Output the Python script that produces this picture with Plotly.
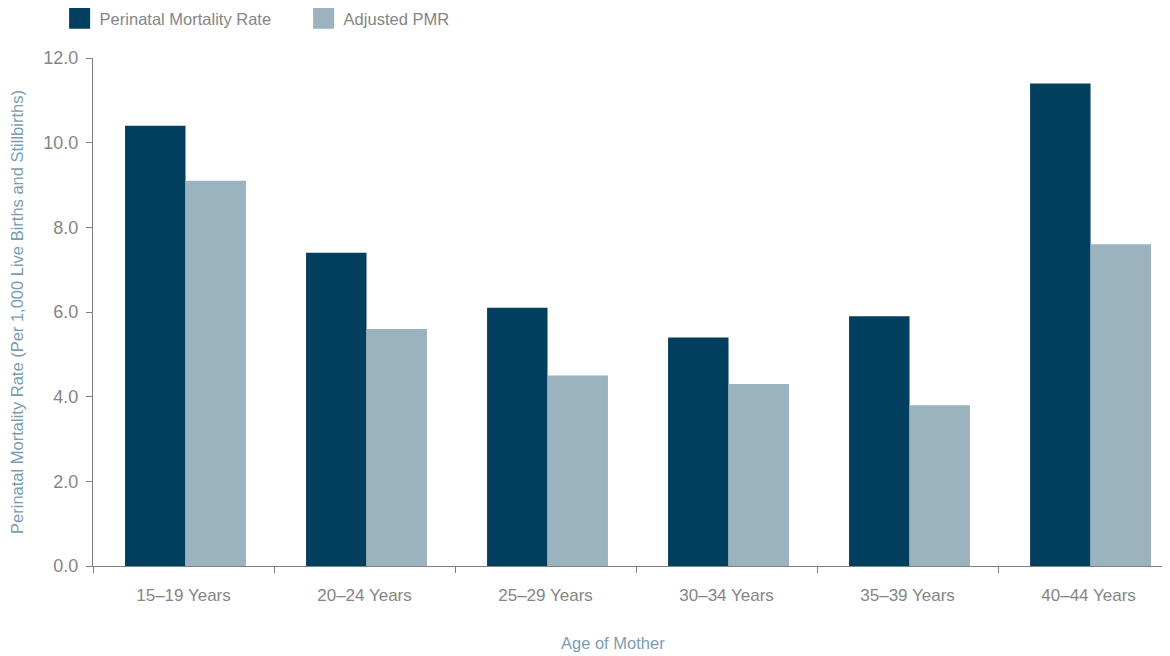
import plotly.graph_objects as go

categories = ["15–19 Years", "20–24 Years", "25–29 Years", "30–34 Years", "35–39 Years", "40–44 Years"]
pmr = [10.4, 7.4, 6.1, 5.4, 5.9, 11.4]
adjusted_pmr = [9.1, 5.6, 4.5, 4.3, 3.8, 7.6]
series_names = ["Perinatal Mortality Rate", "Adjusted PMR"]
y_ticks = [0, 2, 4, 6, 8, 10, 12]
y_tick_labels = ["0.0", "2.0", "4.0", "6.0", "8.0", "10.0", "12.0"]

DARK = "#023e5e"
LIGHT = "#9bb2bf"
TICK_COLOR = "#858585"
TITLE_COLOR = "#7a9db2"
FONT = "Liberation Sans, Arial, sans-serif"

fig = go.Figure()
for name, vals, col, off in [(series_names[0], pmr, DARK, -0.323),
                             (series_names[1], adjusted_pmr, LIGHT, 0.011)]:
    fig.add_trace(go.Bar(x=categories, y=vals, name=name, showlegend=False,
                         legendgroup=name, width=0.334, offset=off,
                         marker=dict(color=col, line=dict(width=0))))
# legend-only keys (large square swatches)
for name, col in [(series_names[0], DARK), (series_names[1], LIGHT)]:
    fig.add_trace(go.Scatter(x=[None], y=[None], mode="markers", name=name,
                             legendgroup=name, showlegend=True,
                             marker=dict(symbol="square", size=16, color=col,
                                         line=dict(width=5, color=col))))

fig.update_layout(
    width=1162, height=648,
    margin=dict(l=85, r=0, t=50, b=90, autoexpand=False),
    paper_bgcolor="white", plot_bgcolor="white",
    barmode="group", bargap=0.33, bargroupgap=0,
    font=dict(family=FONT, size=16.5, color=TICK_COLOR),
    showlegend=True,
    legend=dict(orientation="h", xref="paper", yref="paper",
                x=-0.031, y=1.112, xanchor="left", yanchor="top",
                font=dict(size=16.5, color=TICK_COLOR),
                itemwidth=30, entrywidth=199, entrywidthmode="pixels",
                bgcolor="rgba(0,0,0,0)"),
    xaxis=dict(type="category", range=[-0.5, 5.45],
               showline=True, linecolor="#7f7f7f", linewidth=1,
               ticks="outside", tickson="boundaries", ticklen=6, tickcolor="#7f7f7f",
               tickfont=dict(size=17, color=TICK_COLOR), ticklabelstandoff=14,
               showgrid=False, zeroline=False, automargin=False),
    yaxis=dict(range=[0, 12], tickvals=y_ticks, ticktext=y_tick_labels,
               showline=True, linecolor="#7f7f7f", linewidth=1,
               ticks="outside", ticklen=6, tickcolor="#7f7f7f",
               tickfont=dict(size=18, color=TICK_COLOR), ticklabelstandoff=4,
               showgrid=False, zeroline=False, automargin=False,
               title=dict(text="Perinatal Mortality Rate (Per 1,000 Live Births and Stillbirths)",
                          font=dict(size=16.5, color=TITLE_COLOR), standoff=22)),
)

fig.add_annotation(text="Age of Mother", xref="paper", yref="paper",
                   x=0.4828, y=-0.1516, xanchor="center", yanchor="middle",
                   showarrow=False, font=dict(size=16.5, color=TITLE_COLOR))

fig.write_html("out.html")
